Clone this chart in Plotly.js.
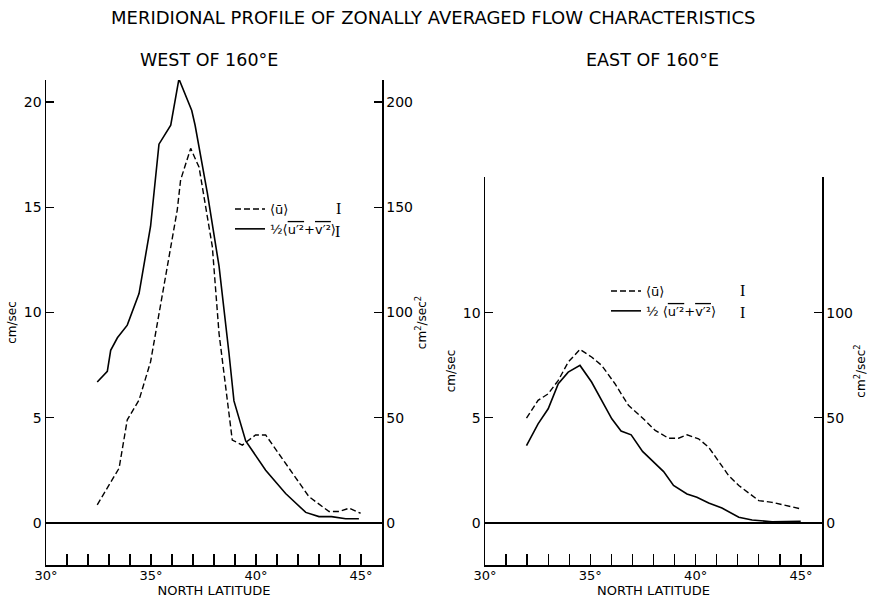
<!DOCTYPE html>
<html><head><meta charset="utf-8">
<script src="https://cdn.plot.ly/plotly-3.0.1.min.js"></script>
<style>html,body{margin:0;padding:0;background:#fff}#chart{width:869px;height:598px}</style>
</head><body><div id="chart"></div>
<script>
// West of 160°E
const latWestU = [32.44, 33.48, 33.87, 34.43, 34.98, 35.54, 36.25, 36.41, 36.89, 37.29, 37.92, 38.24, 38.87, 39.35, 39.98, 40.46, 41.41, 42.52, 43.48, 43.95, 44.43, 44.98];
const uWest = [0.86, 2.6, 4.9, 5.84, 7.66, 10.9, 14.87, 16.3, 17.8, 16.9, 13.13, 9.0, 3.94, 3.7, 4.18, 4.18, 2.84, 1.25, 0.54, 0.54, 0.7, 0.46];
const latWestKE = [32.44, 32.92, 33.08, 33.4, 33.87, 34.43, 34.98, 35.38, 35.94, 36.33, 36.94, 37.1, 37.68, 38.24, 38.71, 38.95, 39.51, 40.46, 41.41, 42.37, 43.0, 43.6, 44.27, 44.9];
const keWest = [67, 72, 82, 88, 94, 109, 141, 180, 189, 211, 196, 189, 157, 122, 81, 58, 39, 25, 14, 5, 3, 3, 2, 2];
// East of 160°E
const latEastU = [31.97, 32.52, 33.0, 33.48, 33.95, 34.51, 35.06, 35.54, 36.17, 36.81, 37.44, 38.08, 38.71, 39.19, 39.59, 40.14, 40.62, 41.1, 41.57, 42.05, 42.68, 43.0, 43.63, 44.27, 44.99];
const uEast = [4.98, 5.83, 6.14, 6.78, 7.65, 8.25, 7.89, 7.49, 6.62, 5.59, 5.03, 4.4, 4.03, 4.03, 4.19, 4.0, 3.6, 2.89, 2.25, 1.78, 1.3, 1.06, 0.98, 0.83, 0.67];
const latEastKE = [31.97, 32.52, 33.0, 33.48, 33.95, 34.51, 35.06, 35.54, 36.02, 36.46, 36.94, 37.48, 38.0, 38.48, 38.95, 39.59, 40.06, 40.62, 41.25, 42.05, 42.68, 43.63, 44.99];
const keEast = [36.8, 47.1, 54.3, 66.2, 71.7, 74.9, 67.0, 58.3, 49.5, 43.7, 41.9, 34.0, 28.9, 24.4, 17.8, 13.8, 12.2, 9.5, 7.1, 2.7, 1.4, 0.6, 0.8];

const latTicks = [30, 35, 40, 45];
const latTickText = ['30°', '35°', '40°', '45°'];
const velTicksWest = [0, 5, 10, 15, 20];
const keTicksWest = [0, 50, 100, 150, 200];
const velTicksEast = [0, 5, 10];
const keTicksEast = [0, 50, 100];

const OL = s => '<span style="text-decoration:overline">' + s + '</span>';
const nameU = '⟨ū⟩';
const nameKEWest = '½⟨' + OL('u′²') + '+' + OL('v′²') + '⟩';
const nameKEEast = '½ ⟨' + OL('u′²') + '+' + OL('v′²') + '⟩';

const FONT = 'DejaVu Sans, sans-serif';
const dashed = {color:'#000', width:1.4, dash:'6px,3px'};
const solid = {color:'#000', width:1.6};

const data = [
  {x: latWestU, y: uWest, xaxis:'x', yaxis:'y', mode:'lines', line:dashed, name:nameU, legend:'legend'},
  {x: latWestKE, y: keWest, xaxis:'x', yaxis:'y2', mode:'lines', line:solid, name:nameKEWest, legend:'legend'},
  {x: latEastU, y: uEast, xaxis:'x2', yaxis:'y3', mode:'lines', line:dashed, name:nameU, legend:'legend2'},
  {x: latEastKE, y: keEast, xaxis:'x2', yaxis:'y4', mode:'lines', line:solid, name:nameKEEast, legend:'legend2'}
];

const W = 869, H = 598;
const px = v => v / W;
const py = v => 1 - v / H;

const xCommon = {range:[30,46], tickmode:'array', tickvals:latTicks, ticktext:latTickText,
  ticks:'inside', ticklen:11, tickwidth:1.3, tickcolor:'#000', ticklabelstandoff:-2,
  minor:{dtick:1, tick0:30, ticks:'inside', ticklen:11, tickwidth:1.3, tickcolor:'#000', showgrid:false},
  showline:true, linecolor:'#000', linewidth:1.5,
  showgrid:false, zeroline:false, tickfont:{family:FONT, size:13, color:'#000'},
  title:{text:'NORTH LATITUDE', font:{family:FONT, size:13, color:'#000'}, standoff:2}};
const yLeftCommon = {tickmode:'array', ticks:'inside', ticklen:8, tickwidth:1.3, tickcolor:'#000',
  showline:true, linecolor:'#000', linewidth:1.5, showgrid:false, zeroline:true, zerolinecolor:'#000', zerolinewidth:1.5,
  tickfont:{family:FONT, size:14, color:'#000'}, title:{text:'cm/sec', font:{family:FONT, size:12, color:'#000'}, standoff:4}};
const yRightCommon = {tickmode:'array', ticks:'inside', ticklen:8, tickwidth:1.3, tickcolor:'#000', side:'right',
  showline:true, linecolor:'#000', linewidth:1.5, showgrid:false, zeroline:false,
  tickfont:{family:FONT, size:14, color:'#000'}, title:{text:'cm<sup>2</sup>/sec<sup>2</sup>', font:{family:FONT, size:12, color:'#000'}, standoff:4}};

const layout = {
  width:W, height:H, margin:{l:0,r:0,t:0,b:0}, paper_bgcolor:'#fff', plot_bgcolor:'rgba(0,0,0,0)',
  font:{family:FONT, color:'#000'},
  xaxis: Object.assign({}, xCommon, {domain:[px(46), px(382)], anchor:'y'}),
  xaxis2: Object.assign({}, xCommon, {domain:[px(485), px(822)], anchor:'y3'}),
  yaxis: Object.assign({}, yLeftCommon, {domain:[1-565/H, 1-80/H], range:[-2, 21.05], tickvals:velTicksWest, anchor:'x'}),
  yaxis2: Object.assign({}, yRightCommon, {domain:[1-565/H, 1-80/H], range:[-20, 210.5], tickvals:keTicksWest, overlaying:'y', anchor:'x'}),
  yaxis3: Object.assign({}, yLeftCommon, {domain:[1-565/H, 1-177/H], range:[-2, 16.45], tickvals:velTicksEast, anchor:'x2'}),
  yaxis4: Object.assign({}, yRightCommon, {domain:[1-565/H, 1-177/H], range:[-20, 164.5], tickvals:keTicksEast, overlaying:'y3', anchor:'x2'}),
  showlegend:true,
  legend: {x:px(230), y:py(194), xanchor:'left', yanchor:'top', bgcolor:'rgba(0,0,0,0)', borderwidth:0,
    font:{family:FONT, size:13, color:'#000'}, tracegroupgap:0, traceorder:'normal'},
  legend2: {x:px(606), y:py(276), xanchor:'left', yanchor:'top', bgcolor:'rgba(0,0,0,0)', borderwidth:0,
    font:{family:FONT, size:13, color:'#000'}, tracegroupgap:0, traceorder:'normal'},
  annotations: [
    {text:'MERIDIONAL PROFILE OF ZONALLY AVERAGED FLOW CHARACTERISTICS', xref:'paper', yref:'paper', x:px(433), y:py(18), xanchor:'center', yanchor:'middle', showarrow:false, font:{family:FONT, size:18, color:'#000'}},
    {text:'WEST OF 160°E', xref:'paper', yref:'paper', x:px(209), y:py(60), xanchor:'center', yanchor:'middle', showarrow:false, font:{family:FONT, size:17.5, color:'#000'}},
    {text:'EAST OF 160°E', xref:'paper', yref:'paper', x:px(652), y:py(60), xanchor:'center', yanchor:'middle', showarrow:false, font:{family:FONT, size:17.5, color:'#000'}},
    {text:'I', xref:'paper', yref:'paper', x:px(338), y:py(208), xanchor:'center', yanchor:'middle', showarrow:false, font:{family:'Liberation Serif, serif', size:16, color:'#000'}},
    {text:'I', xref:'paper', yref:'paper', x:px(337), y:py(231), xanchor:'center', yanchor:'middle', showarrow:false, font:{family:'Liberation Serif, serif', size:16, color:'#000'}},
    {text:'I', xref:'paper', yref:'paper', x:px(742), y:py(290), xanchor:'center', yanchor:'middle', showarrow:false, font:{family:'Liberation Serif, serif', size:16, color:'#000'}},
    {text:'I', xref:'paper', yref:'paper', x:px(742), y:py(312), xanchor:'center', yanchor:'middle', showarrow:false, font:{family:'Liberation Serif, serif', size:16, color:'#000'}}
  ]
};

Plotly.newPlot('chart', data, layout, {staticPlot:true, displayModeBar:false});
</script>
</body></html>
